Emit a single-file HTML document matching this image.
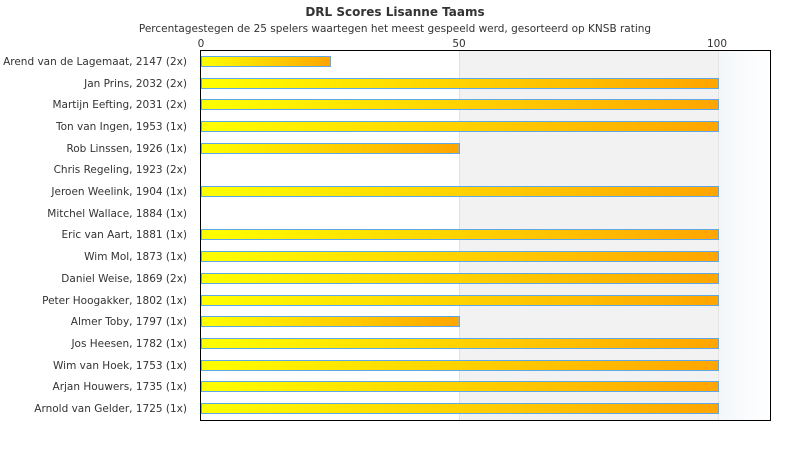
<!DOCTYPE html>
<html><head><meta charset="utf-8"><style>
html,body{margin:0;padding:0;background:#fff;}
svg{display:block;font-family:"DejaVu Sans","Liberation Sans",sans-serif;}
</style></head><body>
<svg width="790" height="450" viewBox="0 0 790 450" xmlns="http://www.w3.org/2000/svg">
<defs>
<linearGradient id="g" x1="0" x2="1" y1="0" y2="0"><stop offset="0" stop-color="#ffff00"/><stop offset="1" stop-color="#ffa500"/></linearGradient>
<linearGradient id="b" x1="0" x2="1"><stop offset="0" stop-color="#f3f6fa"/><stop offset="1" stop-color="#ffffff"/></linearGradient>
</defs>
<text x="395" y="16" text-anchor="middle" font-size="12" font-weight="bold" fill="#333">DRL Scores Lisanne Taams</text>
<text x="395" y="32" text-anchor="middle" font-size="10.5" fill="#333">Percentagestegen de 25 spelers waartegen het meest gespeeld werd, gesorteerd op KNSB rating</text>
<text x="201" y="47" text-anchor="middle" font-size="10.5" fill="#333">0</text>
<text x="459" y="47" text-anchor="middle" font-size="10.5" fill="#333">50</text>
<text x="717" y="47" text-anchor="middle" font-size="10.5" fill="#333">100</text>
<rect x="459" y="50" width="259" height="370" fill="#f2f2f2"/>
<rect x="718" y="50" width="52" height="370" fill="url(#b)"/>
<line x1="459.5" y1="50" x2="459.5" y2="420" stroke="#e0e0e0"/>
<line x1="718.5" y1="50" x2="718.5" y2="420" stroke="#e4e4e4"/>
<g font-size="10.5" fill="#333" text-anchor="end">
<text x="187" y="65">Arend van de Lagemaat, 2147 (2x)</text>
<text x="187" y="87">Jan Prins, 2032 (2x)</text>
<text x="187" y="108">Martijn Eefting, 2031 (2x)</text>
<text x="187" y="130">Ton van Ingen, 1953 (1x)</text>
<text x="187" y="152">Rob Linssen, 1926 (1x)</text>
<text x="187" y="173">Chris Regeling, 1923 (2x)</text>
<text x="187" y="195">Jeroen Weelink, 1904 (1x)</text>
<text x="187" y="217">Mitchel Wallace, 1884 (1x)</text>
<text x="187" y="238">Eric van Aart, 1881 (1x)</text>
<text x="187" y="260">Wim Mol, 1873 (1x)</text>
<text x="187" y="282">Daniel Weise, 1869 (2x)</text>
<text x="187" y="304">Peter Hoogakker, 1802 (1x)</text>
<text x="187" y="325">Almer Toby, 1797 (1x)</text>
<text x="187" y="347">Jos Heesen, 1782 (1x)</text>
<text x="187" y="369">Wim van Hoek, 1753 (1x)</text>
<text x="187" y="390">Arjan Houwers, 1735 (1x)</text>
<text x="187" y="412">Arnold van Gelder, 1725 (1x)</text>
</g>
<g fill="url(#g)" stroke="#5fa8e8" stroke-width="1">
<rect x="201.5" y="56.5" width="129" height="10"/>
<rect x="201.5" y="78.5" width="517" height="10"/>
<rect x="201.5" y="99.5" width="517" height="10"/>
<rect x="201.5" y="121.5" width="517" height="10"/>
<rect x="201.5" y="143.5" width="258" height="10"/>
<rect x="201.5" y="186.5" width="517" height="10"/>
<rect x="201.5" y="229.5" width="517" height="10"/>
<rect x="201.5" y="251.5" width="517" height="10"/>
<rect x="201.5" y="273.5" width="517" height="10"/>
<rect x="201.5" y="295.5" width="517" height="10"/>
<rect x="201.5" y="316.5" width="258" height="10"/>
<rect x="201.5" y="338.5" width="517" height="10"/>
<rect x="201.5" y="360.5" width="517" height="10"/>
<rect x="201.5" y="381.5" width="517" height="10"/>
<rect x="201.5" y="403.5" width="517" height="10"/>
</g>
<rect x="200.5" y="50.5" width="570" height="370" fill="none" stroke="#000"/>
</svg>
</body></html>
